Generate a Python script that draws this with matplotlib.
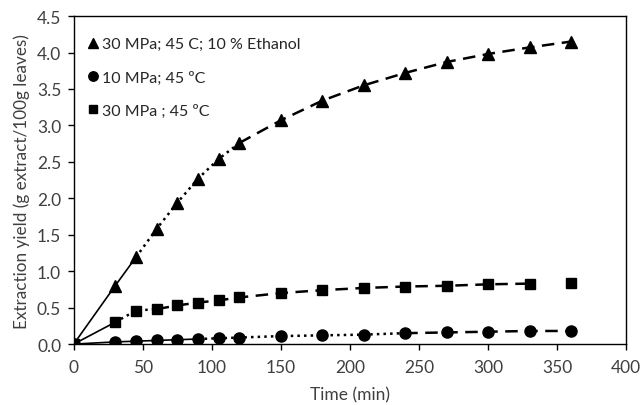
#!/usr/bin/env python3
"""Extraction yield curves for three supercritical extraction conditions."""
import matplotlib
matplotlib.use("Agg")
import matplotlib.pyplot as plt

plt.rcParams["font.family"] = ["Lato", "DejaVu Sans"]

# ---------------------------------------------------------------------------
# data
# ---------------------------------------------------------------------------
time_min = [0, 30, 45, 60, 75, 90, 105, 120, 150, 180, 210, 240, 270, 300, 330, 360]

yield_ethanol = [0.0, 0.80, 1.19, 1.58, 1.94, 2.27, 2.54, 2.76, 3.07, 3.34,
                 3.55, 3.72, 3.87, 3.98, 4.07, 4.15]
yield_10mpa = [0.0, 0.03, 0.04, 0.05, 0.06, 0.07, 0.08, 0.09, 0.11, 0.12,
               0.13, 0.15, 0.16, 0.17, 0.18, 0.18]
yield_30mpa = [0.0, 0.30, 0.46, 0.48, 0.53, 0.57, 0.60, 0.64, 0.70, 0.74,
               0.77, 0.79, 0.80, 0.82, 0.83, 0.84]

labels = ["30 MPa; 45 C; 10 % Ethanol", "10 MPa; 45 ºC", "30 MPa ; 45 ºC"]

# index where the fitted line changes style: solid -> dotted -> dashed (end)
breaks_ethanol = (2, 7, 15)
breaks_10mpa = (5, 11, 15)
breaks_30mpa = (1, 3, 14)

# ---------------------------------------------------------------------------
# plot
# ---------------------------------------------------------------------------
fig = plt.figure(figsize=(6.41, 4.06), dpi=100)
ax = fig.add_axes([0.115, 0.150, 0.862, 0.808])

series = [
    (yield_ethanol, breaks_ethanol, "^", 9),
    (yield_10mpa, breaks_10mpa, "o", 8),
    (yield_30mpa, breaks_30mpa, "s", 6.5),
]

for ys, (b1, b2, b3), marker, ms in series:
    ax.plot(time_min[:b1 + 1], ys[:b1 + 1], "-", color="black", lw=1.2)
    ax.plot(time_min[b1:b2 + 1], ys[b1:b2 + 1], ":", color="black", lw=1.8)
    ax.plot(time_min[b2:b3 + 1], ys[b2:b3 + 1], color="black", lw=1.8,
            dashes=(5, 3))

handles = []
for (ys, _, marker, ms), lab in zip(series, labels):
    h, = ax.plot(time_min, ys, linestyle="none", marker=marker, ms=ms,
                 color="black", label=lab, zorder=3)
    handles.append(h)

leg = ax.legend(handles=handles, loc="upper left", frameon=False,
                handlelength=0.6, handletextpad=0.3, labelspacing=1.2,
                fontsize=11.5, borderaxespad=0.5, markerscale=0.85,
                bbox_to_anchor=(0.0, 0.98))
for t in leg.get_texts():
    t.set_color("#262626")

ax.set_xlim(0, 400)
ax.set_ylim(0, 4.5)
ax.set_xticks(range(0, 401, 50))
ax.set_yticks([i * 0.5 for i in range(10)])
ax.set_yticklabels([f"{i * 0.5:.1f}" for i in range(10)])
ax.tick_params(direction="out", length=4, width=1, labelsize=12.5,
               labelcolor="#404040")
ax.tick_params(axis="x", pad=7)
ax.tick_params(axis="y", pad=5)
ax.set_xlabel("Time (min)", fontsize=12.5, color="#404040", labelpad=8)
ax.set_ylabel("Extraction yield (g extract/100g leaves)", fontsize=12.3,
              color="#404040", labelpad=5)
for sp in ax.spines.values():
    sp.set_linewidth(1.0)

fig.savefig("out.png", dpi=100)
